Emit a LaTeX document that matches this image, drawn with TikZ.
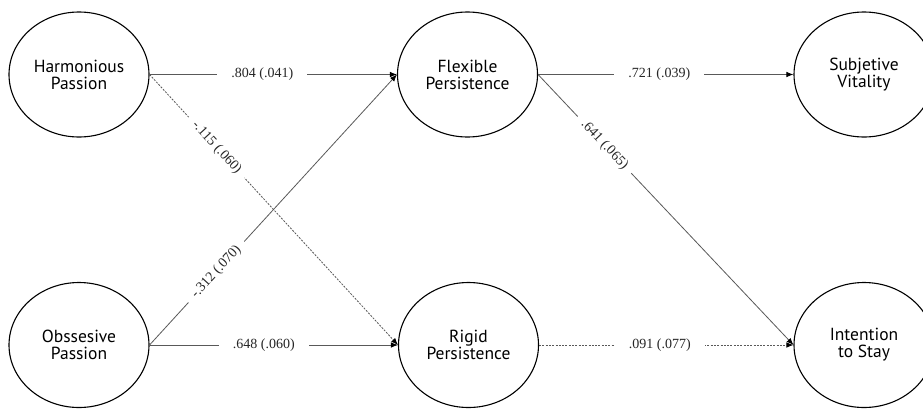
\documentclass[tikz,border=0pt]{standalone}
\usepackage{fontspec}
\newfontfamily\nodefont{PT Sans}
\newfontfamily\labfont{Liberation Serif}
\usetikzlibrary{arrows.meta,shapes.geometric}
\begin{document}
\begin{tikzpicture}[x=1pt,y=-1pt,
  latent/.style={draw=black,line width=1.1pt,ellipse,minimum width=140pt,minimum height=125pt,inner sep=0pt,
    align=center,font=\nodefont\fontsize{17.5}{17}\selectfont},
  path/.style={draw=black!65,line width=0.8pt,-{Latex[length=7pt,width=5.5pt,color=black]}},
  ns/.style={path,dash pattern=on 2pt off 1.3pt},
  coef/.style={fill=white,font=\labfont\fontsize{14}{15}\selectfont,text=black!85,inner ysep=2pt}]
\useasboundingbox (0,0) rectangle (923,408);
\clip (0,0) rectangle (923,408);
\fill[white] (0,0) rectangle (923,408);
\node[latent] (hp) at (79,74.5) {Harmonious\\Passion};
\node[latent] (op) at (79,345) {Obssesive\\Passion};
\node[latent] (fp) at (467.5,74.5) {Flexible\\Persistence};
\node[latent] (rp) at (468.5,345) {Rigid\\Persistence};
\node[latent] (sv) at (864,74.5) {Subjetive\\Vitality};
\node[latent] (is) at (864,345) {Intention\\to Stay};
\draw[path] (hp.east) -- node[coef,pos=0.456,inner xsep=14pt] {.804 (.041)} (fp.west);
\draw[ns] (hp.east) -- node[coef,pos=0.27,sloped,inner xsep=8pt] {-.115 (.060)} (rp.west);
\draw[path] (op.east) -- node[coef,pos=0.27,sloped,inner xsep=8pt] {-.312 (.070)} (fp.west);
\draw[path] (op.east) -- node[coef,pos=0.46,inner xsep=14pt] {.648 (.060)} (rp.west);
\draw[path] (fp.east) -- node[coef,pos=0.475,inner xsep=14pt] {.721 (.039)} (sv.west);
\draw[path] (fp.east) -- node[coef,pos=0.26,sloped,inner xsep=8pt] {.641 (.065)} (is.west);
\draw[ns] (rp.east) -- node[coef,pos=0.475,inner xsep=14pt] {.091 (.077)} (is.west);
\end{tikzpicture}
\end{document}
